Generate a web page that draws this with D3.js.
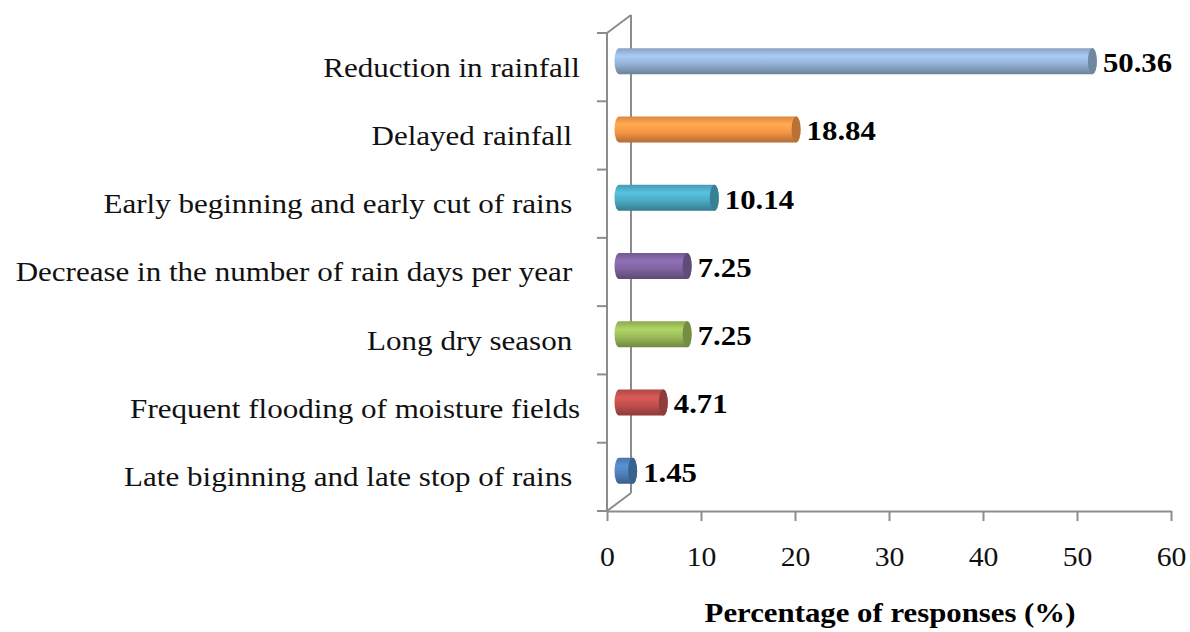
<!DOCTYPE html>
<html>
<head>
<meta charset="utf-8">
<script src="https://cdn.jsdelivr.net/npm/d3@7"></script>
<style>
body { margin: 0; background: #fff; }
text { font-family: "Liberation Serif", "Times New Roman", serif; }
</style>
</head>
<body>
<div id="chart"></div>
<script>
// data, bottom to top as in the picture
let categories = ["Late biginning and late stop of rains ", "Frequent flooding of moisture fields", "Long dry season ",
    "Decrease in the number of rain days per year ", "Early beginning and early cut of rains ", "Delayed rainfall ", "Reduction in rainfall"]
let values = [1.45, 4.71, 7.25, 7.25, 10.14, 18.84, 50.36]
let labels = ["1.45", "4.71", "7.25", "7.25", "10.14", "18.84", "50.36"]
let barColors = ["#4f81bd", "#c0504d", "#9bbb59", "#8064a2", "#4bacc6", "#f79646", "#95b3d7"]
let xTicks = [0, 10, 20, 30, 40, 50, 60]

var width = 1190, height = 632
var plotLeft = 607, plotRight = 1171, plotTop = 33, plotBottom = 511
var depthX = 24, depthY = -18   // 3d wall offset
var stretch = 1.15              // text in the picture is a bit wide

var svg = d3.select("#chart").append("svg")
    .attr("width", width)
    .attr("height", height)

var x = d3.scaleLinear().domain([0, 60]).range([plotLeft, plotRight])
var y = d3.scaleBand().domain(categories).range([plotBottom, plotTop])

// gradients for the cylinder bars
var defs = svg.append("defs")
barColors.forEach(function(c, i) {
    var base = d3.color(c)
    var g = defs.append("linearGradient")
        .attr("id", "grad" + i)
        .attr("x1", 0).attr("y1", 0).attr("x2", 0).attr("y2", 1)
    g.append("stop").attr("offset", "0%").attr("stop-color", base.darker(0.3))
    g.append("stop").attr("offset", "30%").attr("stop-color", base.brighter(0.35))
    g.append("stop").attr("offset", "60%").attr("stop-color", base)
    g.append("stop").attr("offset", "100%").attr("stop-color", base.darker(0.9))
})

var axisColor = "#8c8c8c"

// back wall line and floor / top diagonals
svg.append("line")
    .attr("x1", plotLeft + depthX).attr("y1", plotTop + depthY)
    .attr("x2", plotLeft + depthX).attr("y2", plotBottom + depthY)
    .style("stroke", axisColor).style("stroke-width", 2)
svg.append("line")
    .attr("x1", plotLeft).attr("y1", plotTop)
    .attr("x2", plotLeft + depthX).attr("y2", plotTop + depthY)
    .style("stroke", axisColor).style("stroke-width", 2)
svg.append("line")
    .attr("x1", plotLeft).attr("y1", plotBottom)
    .attr("x2", plotLeft + depthX).attr("y2", plotBottom + depthY)
    .style("stroke", axisColor).style("stroke-width", 2)

// Y axis (front)
var yAxis = svg.append("g")
    .attr("transform", "translate(" + plotLeft + ",0)")
yAxis.append("line")
    .attr("x1", 0).attr("y1", plotTop).attr("x2", 0).attr("y2", plotBottom)
    .style("stroke", axisColor).style("stroke-width", 2)
var yEdges = categories.map(function(c) { return y(c) }).concat([plotBottom])
yAxis.selectAll(".ytick")
    .data(yEdges)
    .enter()
    .append("line")
    .attr("x1", -10).attr("x2", 0)
    .attr("y1", function(d) { return d }).attr("y2", function(d) { return d })
    .style("stroke", axisColor).style("stroke-width", 2)

// category labels
svg.append("g")
    .selectAll("g")
    .data(categories)
    .enter()
    .append("g")
    .attr("transform", function(d) { return "translate(580," + (y(d) + y.bandwidth() / 2) + ")" })
    .append("text")
    .attr("transform", "scale(" + stretch + ",1)")
    .attr("dy", "0.35em")
    .attr("text-anchor", "end")
    .style("white-space", "pre")
    .style("font-size", "27px")
    .style("fill", "#111")
    .text(function(d) { return d })

// X axis
var xAxis = svg.append("g")
    .attr("transform", "translate(0," + plotBottom + ")")
    .call(d3.axisBottom(x).tickValues(xTicks).tickSize(10).tickSizeOuter(0))
xAxis.select(".domain").style("stroke", axisColor).style("stroke-width", 2)
xAxis.selectAll(".tick line").style("stroke", axisColor).style("stroke-width", 2)
xAxis.selectAll(".tick text")
    .attr("y", 36)
    .attr("transform", "scale(1.1,1)")
    .style("font-size", "27px")
    .style("font-family", "Liberation Serif, serif")
    .style("fill", "#111")

// axis title
svg.append("g")
    .attr("transform", "translate(890,622)")
    .append("text")
    .attr("transform", "scale(1.1,1)")
    .attr("text-anchor", "middle")
    .style("font-size", "28px")
    .style("font-weight", "bold")
    .style("fill", "#000")
    .text("Percentage of responses (%)")

// bars as cylinders
var barH = 26, rx = 4.5
var bars = svg.append("g")
    .selectAll("g")
    .data(values)
    .enter()
    .append("g")
bars.each(function(v, i) {
    var g = d3.select(this)
    var cy = y(categories[i]) + y.bandwidth() / 2 - 6
    var x0 = x(0) + depthX / 2
    var x1 = x(v) + depthX / 2
    var base = d3.color(barColors[i])
    g.append("path")
        .attr("d", "M" + x0 + "," + (cy - barH / 2) +
            " L" + x1 + "," + (cy - barH / 2) +
            " A" + rx + "," + (barH / 2) + " 0 0 1 " + x1 + "," + (cy + barH / 2) +
            " L" + x0 + "," + (cy + barH / 2) +
            " A" + rx + "," + (barH / 2) + " 0 0 1 " + x0 + "," + (cy - barH / 2) + "Z")
        .style("fill", "url(#grad" + i + ")")
    g.append("ellipse")
        .attr("cx", x1).attr("cy", cy)
        .attr("rx", rx).attr("ry", barH / 2)
        .style("fill", base.darker(0.8))
    g.append("g")
        .attr("transform", "translate(" + (x1 + rx + 6) + "," + (cy + 1) + ")")
        .append("text")
        .attr("transform", "scale(1.1,1)")
        .attr("dy", "0.35em")
        .style("font-size", "28px")
        .style("font-weight", "bold")
        .style("fill", "#000")
        .text(labels[i])
})
</script>
</body>
</html>
